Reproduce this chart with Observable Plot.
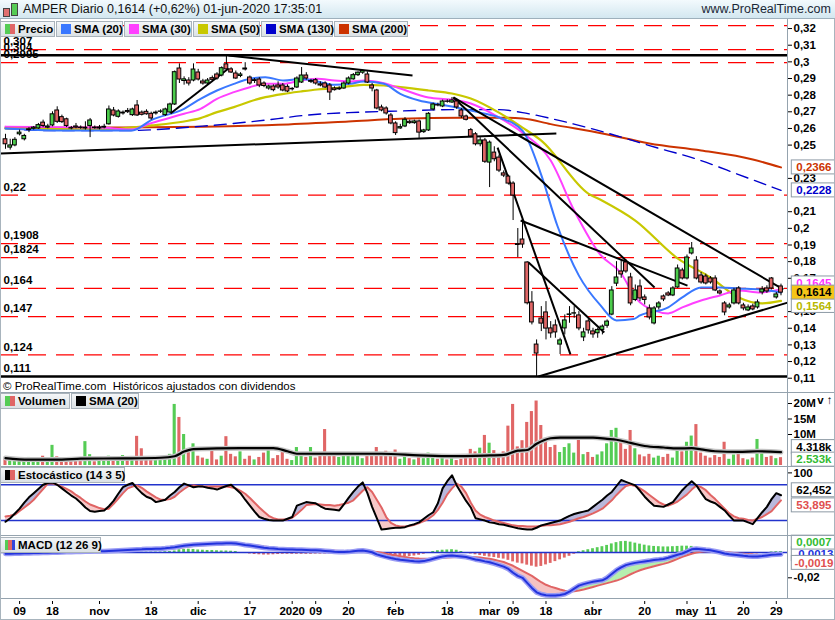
<!DOCTYPE html>
<html>
<head>
<meta charset="utf-8">
<script src="https://cdn.jsdelivr.net/npm/d3@7"></script>
<script src="https://cdn.jsdelivr.net/npm/@observablehq/plot@0.6"></script>
<style>
html,body{margin:0;padding:0;background:#fff;}
#chart{position:relative;width:835px;height:620px;overflow:hidden;background:#fff;font-family:"Liberation Sans",Arial,sans-serif;color:#000;}
#chart svg{position:absolute;left:0;}
.hdr{position:absolute;left:0;top:0;width:835px;height:19px;background:linear-gradient(#f3fafd,#d3e7f0);border-bottom:1px solid #9eb0bc;box-sizing:border-box;}
.hdr .t{position:absolute;left:23px;top:2px;font-size:12.5px;color:#111;white-space:nowrap;}
.hdr .w{position:absolute;right:4px;top:2px;font-size:12.5px;color:#1b2836;white-space:nowrap;}
.ic{position:absolute;border:1px solid #444;}
.leg{position:absolute;height:16px;box-sizing:border-box;border:1px solid #a9b3bb;background:linear-gradient(#f4f6f8,#dbe1e5);font-size:11.5px;font-weight:bold;white-space:nowrap;line-height:14px;padding-left:17px;}
.leg i{position:absolute;left:4px;top:2px;width:10px;height:10px;}
.hl{position:absolute;left:0;width:835px;height:1px;background:#95a3ae;}
.vl{position:absolute;left:787px;width:1px;background:#95a3ae;}
.copy{position:absolute;left:3px;top:380px;font-size:11.5px;white-space:nowrap;}
</style>
</head>
<body>
<div id="chart"></div>
<script>
// ---------------- DATA (index 0 = 4-oct-2019 ... 165 = 1-jun-2020) ----------------
const open = [
0.2535,0.2485,0.2498,0.2565,0.2535,0.2590,0.2598,0.2600,0.2635,0.2605,
0.2618,0.2708,0.2668,0.2655,0.2602,0.2612,0.2605,0.2600,0.2615,0.2605,
0.2600,0.2605,0.2625,0.2708,0.2670,0.2690,0.2705,0.2680,0.2738,0.2695,
0.2700,0.2688,0.2690,0.2700,0.2680,0.2696,0.2744,0.2960,0.2885,0.2888,
0.2888,0.2936,0.2882,0.2870,0.2902,0.2924,0.2918,0.2985,0.2955,0.2930,
0.2915,0.2960,0.2906,0.2885,0.2894,0.2870,0.2840,0.2852,0.2858,0.2858,
0.2850,0.2835,0.2846,0.2876,0.2918,0.2880,0.2890,0.2865,0.2870,0.2858,
0.2840,0.2835,0.2840,0.2870,0.2895,0.2920,0.2935,0.2924,0.2858,0.2828,
0.2726,0.2720,0.2678,0.2630,0.2600,0.2612,0.2640,0.2632,0.2642,0.2578,
0.2588,0.2714,0.2740,0.2732,0.2762,0.2756,0.2762,0.2708,0.2672,0.2590,
0.2565,0.2505,0.2528,0.2395,0.2455,0.2425,0.2330,0.2311,0.2269,0.1905,
0.1933,0.1795,0.1555,0.1302,0.1458,0.1495,0.1399,0.1417,0.1302,0.1399,
0.1480,0.1488,0.1477,0.1345,0.1441,0.1381,0.1370,0.1390,0.1415,0.1482,
0.1668,0.1741,0.1795,0.1705,0.1570,0.1651,0.1585,0.1519,0.1429,0.1525,
0.1591,0.1609,0.1597,0.1645,0.1747,0.1699,0.1849,0.1807,0.1717,0.1711,
0.1699,0.1699,0.1621,0.1549,0.1525,0.1549,0.1639,0.1537,0.1507,0.1531,
0.1525,0.1615,0.1639,0.1699,0.1585,0.1651];
const high = [
0.2565,0.2535,0.2545,0.2590,0.2565,0.2605,0.2612,0.2630,0.2650,0.2625,
0.2700,0.2730,0.2680,0.2662,0.2612,0.2630,0.2615,0.2640,0.2660,0.2615,
0.2618,0.2625,0.2735,0.2726,0.2712,0.2705,0.2720,0.2722,0.2768,0.2705,
0.2712,0.2698,0.2705,0.2712,0.2722,0.2752,0.2945,0.2988,0.2910,0.2905,
0.2988,0.2955,0.2895,0.2900,0.2915,0.2935,0.2970,0.3040,0.2965,0.2945,
0.2935,0.2995,0.2915,0.2900,0.2905,0.2880,0.2860,0.2862,0.2880,0.2870,
0.2862,0.2845,0.2910,0.2966,0.2935,0.2895,0.2900,0.2880,0.2880,0.2870,
0.2850,0.2850,0.2880,0.2910,0.2930,0.2940,0.2950,0.2940,0.2870,0.2835,
0.2740,0.2730,0.2690,0.2640,0.2625,0.2665,0.2650,0.2650,0.2650,0.2595,
0.2695,0.2752,0.2752,0.2770,0.2772,0.2786,0.2775,0.2720,0.2680,0.2600,
0.2575,0.2545,0.2540,0.2525,0.2490,0.2440,0.2345,0.2320,0.2280,0.1999,
0.2047,0.1800,0.1620,0.1330,0.1530,0.1560,0.1440,0.1450,0.1340,0.1480,
0.1530,0.1530,0.1500,0.1400,0.1455,0.1400,0.1400,0.1420,0.1450,0.1650,
0.1800,0.1807,0.1810,0.1730,0.1660,0.1690,0.1600,0.1540,0.1530,0.1560,
0.1600,0.1620,0.1650,0.1780,0.1760,0.1840,0.1915,0.1830,0.1735,0.1725,
0.1710,0.1715,0.1630,0.1560,0.1550,0.1640,0.1650,0.1550,0.1540,0.1545,
0.1570,0.1650,0.1655,0.1705,0.1615,0.1665];
const low = [
0.2475,0.2470,0.2490,0.2555,0.2525,0.2575,0.2590,0.2595,0.2605,0.2598,
0.2610,0.2630,0.2630,0.2605,0.2592,0.2598,0.2595,0.2590,0.2545,0.2595,
0.2592,0.2598,0.2620,0.2670,0.2662,0.2680,0.2690,0.2672,0.2672,0.2675,
0.2680,0.2650,0.2680,0.2690,0.2672,0.2690,0.2738,0.2870,0.2860,0.2855,
0.2880,0.2885,0.2860,0.2862,0.2880,0.2890,0.2910,0.2950,0.2930,0.2895,
0.2905,0.2945,0.2860,0.2870,0.2845,0.2845,0.2830,0.2820,0.2835,0.2820,
0.2815,0.2825,0.2840,0.2870,0.2890,0.2870,0.2860,0.2850,0.2840,0.2768,
0.2825,0.2828,0.2835,0.2862,0.2890,0.2912,0.2925,0.2870,0.2820,0.2712,
0.2700,0.2680,0.2622,0.2558,0.2595,0.2605,0.2625,0.2625,0.2540,0.2570,
0.2582,0.2705,0.2730,0.2725,0.2752,0.2750,0.2715,0.2660,0.2645,0.2545,
0.2495,0.2490,0.2390,0.2245,0.2400,0.2335,0.2305,0.2260,0.2047,0.1825,
0.1880,0.1540,0.1420,0.1110,0.1380,0.1330,0.1340,0.1340,0.1242,0.1360,
0.1430,0.1460,0.1385,0.1320,0.1365,0.1340,0.1340,0.1360,0.1400,0.1475,
0.1650,0.1700,0.1730,0.1535,0.1560,0.1560,0.1540,0.1450,0.1420,0.1510,
0.1560,0.1590,0.1590,0.1640,0.1690,0.1690,0.1840,0.1690,0.1665,0.1660,
0.1665,0.1620,0.1600,0.1475,0.1515,0.1540,0.1540,0.1505,0.1500,0.1505,
0.1515,0.1600,0.1610,0.1630,0.1575,0.1595];
const close = [
0.2505,0.2498,0.2532,0.2575,0.2555,0.2595,0.2605,0.2620,0.2615,0.2612,
0.2685,0.2640,0.2638,0.2615,0.2600,0.2605,0.2603,0.2604,0.2648,0.2602,
0.2606,0.2610,0.2714,0.2678,0.2702,0.2695,0.2698,0.2714,0.2678,0.2682,
0.2685,0.2660,0.2695,0.2702,0.2714,0.2744,0.2938,0.2894,0.2895,0.2870,
0.2954,0.2894,0.2870,0.2888,0.2892,0.2900,0.2962,0.2955,0.2936,0.2900,
0.2924,0.2954,0.2870,0.2890,0.2858,0.2855,0.2852,0.2830,0.2846,0.2828,
0.2822,0.2838,0.2900,0.2918,0.2900,0.2885,0.2870,0.2858,0.2846,0.2816,
0.2830,0.2840,0.2870,0.2900,0.2920,0.2935,0.2945,0.2876,0.2840,0.2720,
0.2708,0.2690,0.2630,0.2572,0.2608,0.2652,0.2632,0.2642,0.2575,0.2588,
0.2688,0.2744,0.2738,0.2762,0.2760,0.2768,0.2726,0.2672,0.2652,0.2552,
0.2505,0.2528,0.2400,0.2515,0.2415,0.2347,0.2317,0.2269,0.2197,0.1900,
0.1903,0.1550,0.1435,0.1248,0.1428,0.1398,0.1369,0.1375,0.1327,0.1447,
0.1483,0.1490,0.1399,0.1375,0.1387,0.1363,0.1390,0.1410,0.1440,0.1627,
0.1705,0.1723,0.1741,0.1549,0.1627,0.1579,0.1570,0.1465,0.1519,0.1549,
0.1573,0.1597,0.1639,0.1759,0.1699,0.1825,0.1879,0.1699,0.1675,0.1669,
0.1675,0.1627,0.1609,0.1495,0.1537,0.1627,0.1549,0.1519,0.1525,0.1513,
0.1555,0.1633,0.1621,0.1639,0.1603,0.1614];

// moving averages read at knots [bar index, value]
const sma20 = [[0,0.2599],[12,0.2587],[27,0.2588],[31,0.2650],[38,0.2718],[41.5,0.2778],[45,0.2828],[48.6,0.2868],[52,0.2898],[55.3,0.2908],[59.2,0.2888],[62.8,0.2898],[66.3,0.2882],[70,0.2862],[73.4,0.2868],[76.2,0.2882],[80.5,0.2868],[84,0.2808],[88,0.2768],[92.5,0.2744],[97,0.272],[101,0.2695],[105,0.2666],[110,0.2587],[114,0.232],[117.4,0.2017],[122,0.1716],[126.6,0.1537],[130,0.1447],[133.6,0.1455],[135,0.1477],[141,0.1525],[144,0.1585],[148,0.1645],[152,0.1645],[156,0.1639],[160.6,0.1633],[165,0.1615]];
const sma30 = [[0,0.2611],[20,0.2605],[26.6,0.2593],[31,0.2632],[38,0.2688],[41.5,0.2718],[45,0.2778],[48.6,0.2818],[52,0.2848],[55.3,0.2868],[59.2,0.2868],[62.8,0.2888],[66.3,0.2898],[70,0.2888],[73.4,0.2882],[76.2,0.2888],[80.5,0.2872],[84,0.2840],[90,0.2786],[94.7,0.2774],[99,0.275],[105,0.2666],[110,0.2575],[116,0.2407],[121,0.2107],[126.6,0.184],[131,0.1729],[134,0.1585],[138,0.1507],[141,0.1489],[144,0.1525],[148,0.1567],[152,0.1597],[156,0.1627],[160.6,0.1615],[165,0.1635]];
const sma50 = [[0,0.26],[20,0.2593],[31,0.2618],[38,0.2642],[41.5,0.2662],[45,0.2698],[48.6,0.2728],[52,0.2762],[55.3,0.2788],[59.2,0.2808],[62.8,0.2822],[66.3,0.2834],[70,0.2842],[73.4,0.2854],[76.2,0.2862],[80.5,0.2858],[84,0.2848],[90,0.2828],[95,0.281],[99,0.278],[105,0.2695],[110,0.2605],[114,0.2527],[124,0.2209],[127,0.2166],[134,0.2047],[143,0.182],[150,0.1705],[156,0.1585],[161,0.1549],[165,0.1564]];
const sma130 = [[0,0.26],[10,0.2587],[25,0.2587],[42,0.2614],[58,0.2659],[63,0.2677],[73,0.2695],[84,0.2705],[95,0.2713],[105,0.2713],[110,0.2695],[118,0.2647],[127,0.2581],[137,0.2497],[148,0.2407],[156,0.2323],[165,0.2228]];
const sma200 = [[0,0.2604],[20,0.2605],[42,0.2610],[58,0.2622],[73,0.2642],[84,0.2658],[97,0.2665],[105,0.2665],[110,0.266],[116,0.2626],[127,0.257],[137,0.251],[148,0.2468],[159,0.2414],[165,0.2366]];

// drawn lines: [index1, price1, index2, price2]
const trendLines = [
  [-1.06,0.2449,117.2,0.2570],
  [47.45,0.3038,86.6,0.2918],
  [35.1,0.2690,47.45,0.2960],
  [95.3,0.2786,165.5,0.1633],
  [95.3,0.2786,138.1,0.1645],
  [104.7,0.2485,120.2,0.1243],
  [109.6,0.2047,145.1,0.1656],
  [111.3,0.1795,127.4,0.1375],
  [113.4,0.1110,166.4,0.1554]
];
const redLevels = [0.3218,0.3074,0.2995,0.22,0.1908,0.1824,0.164,0.147,0.124];
const blackLevels = [0.304,0.111];
const levelValues = [0.3074,0.304,0.2995,0.22,0.1908,0.1824,0.164,0.147,0.124,0.111];
const levelLabels = ["0,307","0,304","0,2995","0,22","0,1908","0,1824","0,164","0,147","0,124","0,111"];
// tick labels that are not covered by the value tags
const priceTicks = [0.11,0.12,0.13,0.14,0.15,0.17,0.18,0.19,0.2,0.21,0.23,0.25,0.26,0.27,0.28,0.29,0.3,0.31,0.32];
const priceTagValues = [0.2366,0.2228,0.1645,0.1564,0.1614];

// volume (millions)
const volume = [
2.2,1.5,2.0,1.4,1.8,2.6,1.6,2.2,3.0,2.4,
6.5,2.8,2.0,1.6,1.2,1.4,2.0,7.7,3.5,1.2,
1.5,1.8,3.0,2.2,1.6,3.2,1.8,2.5,9.4,5.4,
2.6,2.2,1.6,2.8,2.4,3.6,19.7,15.5,10.0,4.2,
7.0,3.0,2.4,2.0,4.6,1.8,3.0,9.3,3.6,2.8,
4.4,2.0,3.0,1.8,2.6,4.0,5.8,2.2,3.2,5.4,
2.0,1.6,5.8,3.8,2.6,5.8,2.4,3.0,11.6,4.0,
3.2,2.6,3.0,3.4,2.8,3.0,2.2,3.0,4.0,5.8,
3.0,4.6,3.6,5.0,2.0,3.4,2.2,1.8,3.6,2.2,
4.0,2.6,2.0,3.0,1.8,2.4,1.6,2.0,2.6,5.2,
4.4,5.6,9.7,7.2,4.8,3.6,4.4,12.7,19.7,6.0,
8.0,13.9,17.4,20.8,12.9,8.6,5.8,6.5,4.2,5.8,
7.0,4.0,8.6,3.5,4.2,2.6,3.4,4.4,7.0,11.3,
12.0,7.6,5.2,11.3,5.4,3.4,2.8,3.6,2.4,3.0,
2.6,3.6,2.4,5.5,4.4,7.5,9.5,13.2,4.0,3.0,
2.4,3.2,2.6,7.5,2.0,3.4,4.0,2.2,1.8,2.4,
8.4,4.0,2.6,3.0,2.2,2.533];
const volSma = [[0,2.4],[5,1.9],[12,1.9],[16,2.2],[25,2.3],[33,2.5],[36,3.0],[38,4.5],[40,5.3],[50,5.6],[57,5.6],[60,4.6],[62,3.8],[70,3.8],[80,3.8],[88,3.3],[95,3.0],[102,3.2],[106,3.4],[109,4.8],[111,5.0],[113,7.0],[116,8.8],[118,9.0],[125,9.0],[128,8.6],[130,8.3],[133,7.3],[136,6.3],[140,5.8],[143,5.5],[146,5.6],[148,5.2],[151,4.6],[156,4.4],[160,4.6],[165,4.318]];
const volTicks = [10,15,20];

// stochastic (14 3 5)
const stochK = [
18,24,32,40,50,59,66,73,80,83,
84,80,74,68,62,57,50,42,36,35,
36,37,44,53,65,76,80,83,74,66,
60,57,51,53,55,62,68,76,82,79,
76,77,77,75,74,72,75,78,80,73,
66,55,45,35,26,23,21,20,20,20,
23,26,45,48,51,50,49,44,40,39,
38,37,47,58,68,77,84,66,43,24,
5,6,7,8,8,9,12,14,17,23,
29,34,49,74,86,96,79,66,53,42,
24,22,20,17,16,14,13,11,9,7,
6,5,5,8,12,14,16,18,20,24,
28,31,33,35,37,43,49,55,62,68,
78,88,85,82,79,70,60,52,45,44,
43,47,51,61,71,79,86,79,67,56,
52,49,43,37,28,20,20,20,17,14,
24,34,43,56,66,62.452];
const stochD = [
27,28,30,36,42,48,55,64,73,82,
82,80,77,73,69,63,58,52,47,44,
41,39,40,48,57,66,74,77,79,75,
69,64,59,55,55,56,60,67,73,78,
79,78,77,77,77,77,77,77,76,74,
70,65,58,50,42,35,28,24,22,22,
22,25,31,38,46,47,48,47,46,46,
45,46,48,50,54,62,70,76,68,55,
42,26,16,12,10,10,11,13,16,19,
23,29,38,50,64,74,82,77,66,50,
37,30,26,23,20,18,16,14,12,11,
11,10,10,10,11,12,12,13,14,16,
18,21,24,26,29,32,36,40,47,54,
63,71,78,80,78,74,69,63,57,51,
47,45,48,52,58,64,72,79,76,71,
63,56,48,40,32,27,24,23,21,20,
23,26,31,36,45,53.895];
const stochLevels = [20,80];

// MACD (12 26 9)
const macd = [
-0.0010,-0.0009,-0.0008,-0.0007,-0.0006,-0.0005,-0.0004,-0.0003,-0.0002,-0.0001,
0.0000,0.0001,0.0002,0.0003,0.0004,0.0005,0.0006,0.0007,0.0008,0.0009,
0.0010,0.0010,0.0012,0.0014,0.0016,0.0018,0.0020,0.0022,0.0024,0.0025,
0.0027,0.0028,0.0029,0.0030,0.0033,0.0037,0.0042,0.0048,0.0053,0.0058,
0.0062,0.0064,0.0066,0.0068,0.0070,0.0071,0.0072,0.0073,0.0074,0.0072,
0.0066,0.0060,0.0055,0.0050,0.0044,0.0038,0.0034,0.0031,0.0028,0.0026,
0.0024,0.0023,0.0022,0.0021,0.0020,0.0018,0.0017,0.0015,0.0012,0.0009,
0.0006,0.0004,0.0003,0.0005,0.0009,0.0013,0.0016,0.0010,0.0002,-0.0015,
-0.0025,-0.0035,-0.0044,-0.0052,-0.0058,-0.0062,-0.0066,-0.0069,-0.0071,-0.0068,
-0.0060,-0.0050,-0.0040,-0.0031,-0.0026,-0.0024,-0.0027,-0.0031,-0.0036,-0.0045,
-0.0055,-0.0062,-0.0070,-0.0077,-0.0088,-0.0100,-0.0112,-0.0130,-0.0160,-0.0185,
-0.0200,-0.0240,-0.0280,-0.0315,-0.0330,-0.0338,-0.0340,-0.0340,-0.0336,-0.0328,
-0.0310,-0.0285,-0.0262,-0.0250,-0.0240,-0.0232,-0.0225,-0.0220,-0.0200,-0.0170,
-0.0140,-0.0118,-0.0100,-0.0090,-0.0082,-0.0076,-0.0071,-0.0066,-0.0060,-0.0056,
-0.0051,-0.0042,-0.0030,-0.0018,-0.0008,0.0008,0.0025,0.0030,0.0026,0.0021,
0.0017,0.0010,0.0002,-0.0008,-0.0014,-0.0018,-0.0022,-0.0026,-0.0029,-0.0031,
-0.0032,-0.0028,-0.0023,-0.0018,-0.0016,-0.0013];
const signal = [
-0.0012,-0.0011,-0.0010,-0.0009,-0.0008,-0.0007,-0.0006,-0.0005,-0.0004,-0.0003,
-0.0002,-0.0001,0.0000,0.0001,0.0002,0.0003,0.0004,0.0005,0.0006,0.0007,
0.0008,0.0009,0.0010,0.0011,0.0012,0.0014,0.0015,0.0017,0.0018,0.0020,
0.0021,0.0022,0.0023,0.0024,0.0027,0.0030,0.0033,0.0037,0.0042,0.0048,
0.0052,0.0055,0.0058,0.0060,0.0062,0.0064,0.0066,0.0067,0.0068,0.0068,
0.0067,0.0065,0.0062,0.0058,0.0053,0.0047,0.0042,0.0037,0.0033,0.0030,
0.0027,0.0025,0.0024,0.0023,0.0022,0.0021,0.0020,0.0019,0.0017,0.0015,
0.0013,0.0011,0.0010,0.0009,0.0009,0.0010,0.0011,0.0010,0.0008,0.0004,
-0.0002,-0.0010,-0.0017,-0.0022,-0.0030,-0.0036,-0.0041,-0.0045,-0.0048,-0.0050,
-0.0050,-0.0048,-0.0045,-0.0042,-0.0039,-0.0037,-0.0036,-0.0035,-0.0035,-0.0036,
-0.0037,-0.0040,-0.0045,-0.0050,-0.0057,-0.0066,-0.0075,-0.0090,-0.0105,-0.0125,
-0.0145,-0.0165,-0.0185,-0.0210,-0.0235,-0.0255,-0.0270,-0.0280,-0.0292,-0.0302,
-0.0308,-0.0306,-0.0300,-0.0292,-0.0282,-0.0272,-0.0262,-0.0252,-0.0242,-0.0232,
-0.0222,-0.0208,-0.0190,-0.0172,-0.0155,-0.0140,-0.0128,-0.0118,-0.0108,-0.0099,
-0.0090,-0.0080,-0.0065,-0.0050,-0.0035,-0.0022,-0.0010,0.0000,0.0006,0.0009,
0.0011,0.0010,0.0008,0.0005,0.0001,-0.0003,-0.0007,-0.0010,-0.0013,-0.0016,
-0.0018,-0.0019,-0.0020,-0.0020,-0.0019,-0.0019];
const histogram = [
-0.0004,-0.0004,-0.0004,-0.0004,-0.0003,-0.0003,-0.0003,-0.0003,-0.0003,-0.0002,
-0.0002,0.0002,0.0002,0.0002,0.0002,0.0002,0.0002,0.0003,0.0003,0.0003,
0.0003,0.0003,0.0003,0.0003,0.0004,0.0004,0.0004,0.0004,0.0004,0.0004,
0.0004,0.0004,0.0004,0.0004,0.0006,0.0008,0.0012,0.0022,0.0024,0.0026,
0.0024,0.0020,0.0018,0.0016,0.0016,0.0014,0.0012,0.0012,0.0010,0.0008,
-0.0002,-0.0008,-0.0012,-0.0016,-0.0018,-0.0020,-0.0020,-0.0018,-0.0016,-0.0014,
-0.0014,-0.0014,-0.0014,-0.0014,-0.0014,-0.0014,-0.0012,-0.0012,-0.0012,-0.0010,
-0.0010,-0.0008,-0.0007,-0.0006,-0.0004,0.0002,0.0003,-0.0002,-0.0012,-0.0020,
-0.0026,-0.0032,-0.0036,-0.0040,-0.0040,-0.0036,-0.0032,-0.0028,-0.0022,-0.0014,
-0.0008,0.0008,0.0014,0.0018,0.0020,0.0022,0.0018,0.0008,-0.0004,-0.0012,
-0.0018,-0.0024,-0.0030,-0.0036,-0.0040,-0.0046,-0.0052,-0.0062,-0.0074,-0.0084,
-0.0090,-0.0100,-0.0108,-0.0116,-0.0110,-0.0098,-0.0086,-0.0072,-0.0058,-0.0044,
-0.0030,-0.0014,0.0006,0.0014,0.0022,0.0030,0.0038,0.0046,0.0056,0.0068,
0.0078,0.0086,0.0088,0.0082,0.0074,0.0066,0.0058,0.0052,0.0048,0.0046,
0.0044,0.0044,0.0046,0.0048,0.0050,0.0050,0.0048,0.0040,0.0030,0.0020,
0.0010,0.0002,-0.0004,-0.0010,-0.0012,-0.0014,-0.0014,-0.0014,-0.0012,-0.0010,
-0.0010,-0.0006,-0.0002,0.0004,0.0006,0.0007];

// x axis
const tickIdx = [3,10,20,31,41,52,61,66,73,83,94,103,108,115,125,136,145,150,157,164];
const tickLabels = ["09","18","nov","18","dic","17","2020","09","20","feb","18","mar","09","18","abr","20","may","11","20","29"];

// ---------------- DRAWING ----------------
const chart = document.getElementById("chart");
const FONT = '"Liberation Sans", Arial, sans-serif';
const X0 = -1.0638, X1 = 166.383;
const xs = () => ({type: "linear", domain: [X0, X1], range: [0, 787], axis: null});
const baseStyle = {fontFamily: FONT, fontSize: "11px", background: "transparent", overflow: "visible"};
const comma = d => String(d).replace(".", ",");
const UP = "#4ccc4c", DN = "#e06666";
const TAGX1 = 167.3, TAGX2 = 176.6, TAGX = 172;

function mount(svg, top) { svg.style.top = top + "px"; chart.appendChild(svg); }
function html(cls, style, text) {
  const d = document.createElement("div");
  d.className = cls; if (style) d.setAttribute("style", style);
  if (text != null) d.innerHTML = text;
  chart.appendChild(d); return d;
}
const pts = arr => arr.map(([i, v]) => ({i, v}));
function tags(list, halfH) {
  return list.flatMap(t => [
    Plot.rect([t], {x1: () => TAGX1, x2: () => TAGX2, y1: d => d.v - halfH, y2: d => d.v + halfH, dy: t.dy, fill: t.bg, stroke: "#8d9aa5"}),
    Plot.text([t], {x: () => TAGX, y: "v", dy: t.dy, text: "label", fill: t.color, fontWeight: "bold", fontSize: 11.5})
  ]);
}

const idx = d3.range(close.length);
const bars = idx.map(i => ({i, o: open[i], h: high[i], l: low[i], c: close[i], up: close[i] >= open[i]}));

// ----- price panel -----
const priceTagStyle = [
  {color: "#cc3300", bg: "#fff", dy: 0},
  {color: "#0000cc", bg: "#fff", dy: 0},
  {color: "#ff33ff", bg: "#fff", dy: -4},
  {color: "#b8b800", bg: "#fff", dy: 5},
  {color: "#000", bg: "#f5c518", dy: 0}
];
const priceTags = priceTagValues.map((v, k) => ({v, label: comma(v), ...priceTagStyle[k]}));
const trend = trendLines.map(([i1, p1, i2, p2]) => ({i1, p1, i2, p2}));

const price = Plot.plot({
  width: 835, height: 362, marginLeft: 0, marginRight: 48, marginTop: 0, marginBottom: 0,
  x: xs(),
  y: {domain: [0.10802, 0.32544], range: [362, 0], axis: null},
  style: baseStyle,
  marks: [
    Plot.ruleY(redLevels, {y: d => d, x1: () => X0, x2: () => X1, stroke: "#ff0000", strokeWidth: 1.3, strokeDasharray: "18,10"}),
    Plot.ruleY(blackLevels, {y: d => d, x1: () => X0, x2: () => X1, stroke: "#000", strokeWidth: 2.5}),
    Plot.text(levelValues, {x: () => X0, y: d => d, text: (d, i) => levelLabels[i], textAnchor: "start", dx: 3, dy: -8, fontWeight: "bold", fontSize: 11.5, fill: "#000"}),
    Plot.line(pts(sma200), {x: "i", y: "v", stroke: "#cc3300", strokeWidth: 2, curve: "monotone-x"}),
    Plot.line(pts(sma130), {x: "i", y: "v", stroke: "#0000cc", strokeWidth: 1.4, strokeDasharray: "12,7", curve: "monotone-x"}),
    Plot.line(pts(sma50), {x: "i", y: "v", stroke: "#c8c800", strokeWidth: 2.2, curve: "monotone-x"}),
    Plot.line(pts(sma30), {x: "i", y: "v", stroke: "#ff40ff", strokeWidth: 2, curve: "monotone-x"}),
    Plot.line(pts(sma20), {x: "i", y: "v", stroke: "#3a78ff", strokeWidth: 2, curve: "monotone-x"}),
    Plot.link(trend, {x1: "i1", y1: "p1", x2: "i2", y2: "p2", stroke: "#000", strokeWidth: 2}),
    Plot.ruleX(bars, {x: "i", y1: "l", y2: "h", stroke: "#000", strokeWidth: 1}),
    Plot.rect(bars, {x1: d => d.i - 0.4, x2: d => d.i + 0.4, y1: "o", y2: "c", fill: d => d.up ? UP : DN, stroke: "#000", strokeWidth: 1}),
    Plot.axisY({anchor: "right", ticks: priceTicks, tickFormat: d => comma(+d.toFixed(2)), tickSize: 4, tickPadding: 2, fontWeight: "bold", fontSize: 11.5}),
    ...tags(priceTags, 0.0042)
  ]
});
mount(price, 19);

// ----- volume panel -----
const volData = idx.map(i => ({i, v: volume[i], up: close[i] >= open[i]}));
const volTags = [
  {v: volSma[volSma.length - 1][1], label: "4.318k", color: "#000", bg: "#fff", dy: -5},
  {v: volume[volume.length - 1], label: "2.533k", color: "#33bb33", bg: "#fff", dy: 2}
];
const vol = Plot.plot({
  width: 835, height: 74, marginLeft: 0, marginRight: 48, marginTop: 0, marginBottom: 0,
  x: xs(),
  y: {domain: [-0.32, 23.55], range: [74, 0], axis: null},
  style: baseStyle,
  marks: [
    Plot.rect(volData, {x1: d => d.i - 0.33, x2: d => d.i + 0.33, y1: () => 0, y2: "v", fill: d => d.up ? "#55cc55" : "#e06666"}),
    Plot.line(pts(volSma), {x: "i", y: "v", stroke: "#c4c4c4", strokeWidth: 5, curve: "monotone-x"}),
    Plot.line(pts(volSma), {x: "i", y: "v", stroke: "#000", strokeWidth: 2.2, curve: "monotone-x"}),
    Plot.axisY({anchor: "right", ticks: volTicks, tickFormat: d => d + "M", tickSize: 4, tickPadding: 2, fontWeight: "bold", fontSize: 11.5}),
    ...tags(volTags, 2.26)
  ]
});
mount(vol, 392);

// ----- stochastic panel -----
const stoch = idx.map(i => ({i, k: stochK[i], d: stochD[i], top: Math.max(stochK[i], stochD[i])}));
const stochTags = [
  {v: stochK[stochK.length - 1], label: "62,452", color: "#000", bg: "#fff", dy: -5},
  {v: stochD[stochD.length - 1], label: "53,895", color: "#e05050", bg: "#fff", dy: 5}
];
const sto = Plot.plot({
  width: 835, height: 69, marginLeft: 0, marginRight: 48, marginTop: 0, marginBottom: 0,
  x: xs(),
  y: {domain: [-5.0, 110.7], range: [69, 0], axis: null},
  style: baseStyle,
  marks: [
    Plot.areaY(stoch, {x: "i", y1: "d", y2: "top", fill: "#b8b8dc"}),
    Plot.areaY(stoch, {x: "i", y1: "k", y2: "top", fill: "#f7c8c8"}),
    Plot.ruleY(stochLevels, {y: d => d, x1: () => X0, x2: () => X1, stroke: "#2233cc", strokeWidth: 1.5}),
    Plot.line(stoch, {x: "i", y: "d", stroke: "#e06464", strokeWidth: 2}),
    Plot.line(stoch, {x: "i", y: "k", stroke: "#000", strokeWidth: 2}),
    Plot.axisY({anchor: "right", ticks: [100], tickFormat: d => String(d), tickSize: 4, tickPadding: 2, fontWeight: "bold", fontSize: 11.5}),
    ...tags(stochTags, 11.7)
  ]
});
mount(sto, 466);

// ----- MACD panel -----
const md = idx.map(i => ({i, m: macd[i], s: signal[i], h: histogram[i], top: Math.max(macd[i], signal[i])}));
const macdTags = [
  {v: macd[macd.length - 1], label: "-0,0013", color: "#2233dd", bg: "#fff", dy: 0},
  {v: histogram[histogram.length - 1], label: "0,0007", color: "#33bb33", bg: "#fff", dy: -9},
  {v: signal[signal.length - 1], label: "-0,0019", color: "#e05050", bg: "#fff", dy: 8}
];
const mac = Plot.plot({
  width: 835, height: 63, marginLeft: 0, marginRight: 48, marginTop: 0, marginBottom: 0,
  x: xs(),
  y: {domain: [-0.03636, 0.01344], range: [63, 0], axis: null},
  style: baseStyle,
  marks: [
    Plot.rect(md, {x1: d => d.i - 0.3, x2: d => d.i + 0.3, y1: () => 0, y2: "h", fill: d => d.h >= 0 ? "#55cc55" : "#e06666"}),
    Plot.areaY(md, {x: "i", y1: "s", y2: "top", fill: "#b6efae"}),
    Plot.areaY(md, {x: "i", y1: "m", y2: "top", fill: "#f5c2c2"}),
    Plot.ruleY([0], {x1: () => X0, x2: () => X1, stroke: "#2233cc", strokeWidth: 1.5}),
    Plot.line(md, {x: "i", y: "s", stroke: "#e06464", strokeWidth: 2}),
    Plot.line(md, {x: "i", y: "m", stroke: "#9a9cf4", strokeWidth: 5}),
    Plot.line(md, {x: "i", y: "m", stroke: "#2233dd", strokeWidth: 2}),
    Plot.axisY({anchor: "right", ticks: [-0.02], tickFormat: d => comma(d), tickSize: 4, tickPadding: 2, fontWeight: "bold", fontSize: 11.5}),
    ...tags(macdTags, 0.0055)
  ]
});
mount(mac, 535);

// ----- x axis -----
const xa = Plot.plot({
  width: 835, height: 22, marginLeft: 0, marginRight: 48, marginTop: 0, marginBottom: 19,
  x: xs(),
  style: baseStyle,
  marks: [
    Plot.axisX({anchor: "bottom", ticks: tickIdx, tickFormat: d => tickLabels[tickIdx.indexOf(d)], tickSize: 3, tickPadding: 2, fontWeight: "bold", fontSize: 11.5})
  ]
});
mount(xa, 598);

// ----- frame, header, legends -----
html("vl", "top:19px;height:579px;");
[392, 466, 535, 598].forEach(y => html("hl", "top:" + y + "px;"));
html("", "position:absolute;left:0;top:0;width:1px;height:620px;background:#a8b4bd;");
html("", "position:absolute;left:834px;top:0;width:1px;height:620px;background:#a8b4bd;");
html("", "position:absolute;left:0;top:619px;width:835px;height:1px;background:#a8b4bd;");

const hdr = html("hdr", "");
hdr.innerHTML = '<div class="ic" style="left:3px;top:8px;width:5px;height:7px;background:#e07070"></div>' +
  '<div class="ic" style="left:11px;top:3px;width:5px;height:11px;background:#55cc55"></div>' +
  '<div class="t">AMPER Diario 0,1614 (+0,62%) 01-jun-2020 17:35:01</div>' +
  '<div class="w">www.ProRealTime.com</div>';

const legs = [
  [0, 55, "linear-gradient(90deg,#55cc55 50%,#e06666 50%)", "Precio"],
  [56, 67, "#3a78ff", "SMA (20)"],
  [124, 68, "#ff40ff", "SMA (30)"],
  [193, 67, "#c8c800", "SMA (50)"],
  [261, 72, "#0000cc", "SMA (130)"],
  [334, 74, "#cc3300", "SMA (200)"]
];
legs.forEach(([l, w, c, t]) => html("leg", `left:${l}px;top:21px;width:${w}px;`, `<i style="background:${c}"></i>${t}`));
html("leg", "left:0px;top:393px;width:70px;", '<i style="background:linear-gradient(90deg,#55cc55 50%,#e06666 50%)"></i>Volumen');
html("leg", "left:71px;top:393px;width:68px;", '<i style="background:#000"></i>SMA (20)');
html("leg", "left:0px;top:467px;width:125px;", '<i style="background:linear-gradient(90deg,#000 50%,#e06666 50%)"></i>Estocástico (14 3 5)');
html("leg", "left:0px;top:537px;width:101px;", '<i style="background:linear-gradient(90deg,#55cc55 34%,#e06666 34% 67%,#3344dd 67%)"></i>MACD (12 26 9)');
html("copy", "", "© ProRealTime.com&nbsp; Históricos ajustados con dividendos");
</script>
</body>
</html>
